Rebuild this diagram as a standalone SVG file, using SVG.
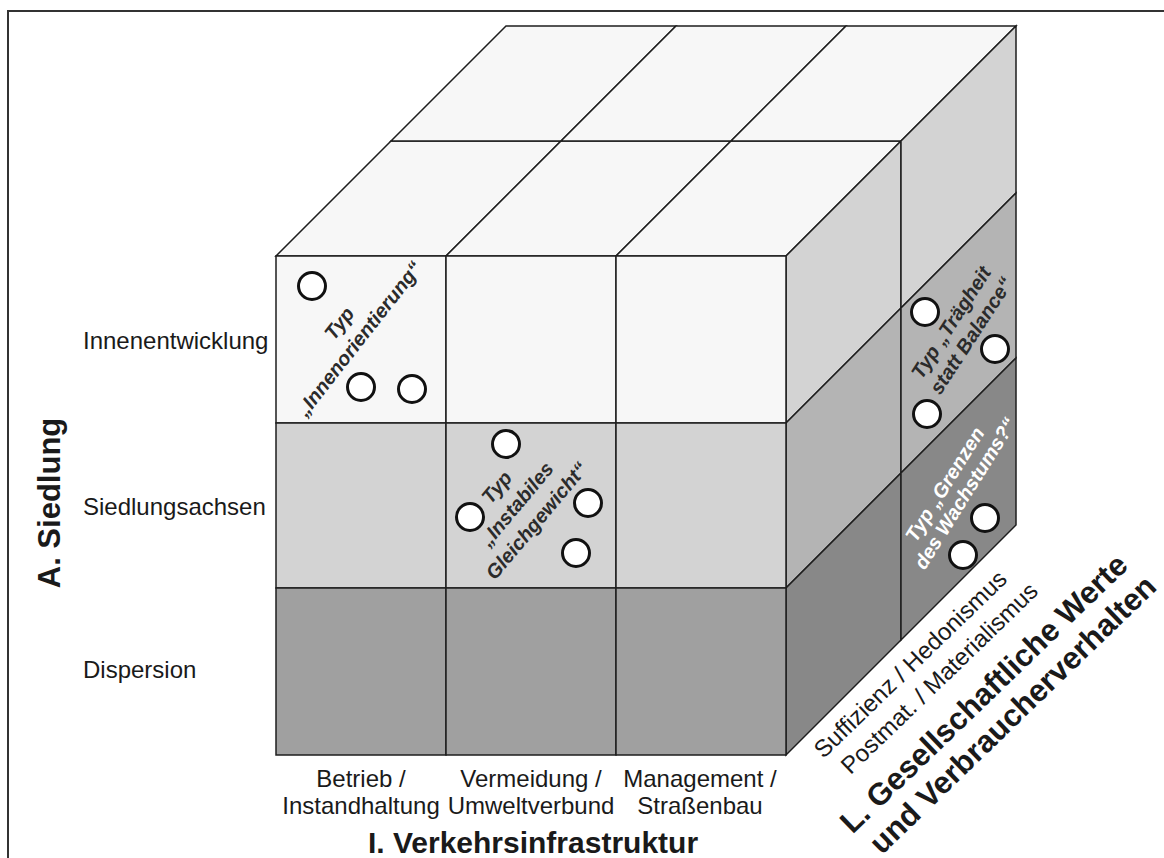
<svg xmlns="http://www.w3.org/2000/svg" width="1164" height="858" viewBox="0 0 1164 858">
<style>
.e{stroke:#1e1e1e;stroke-width:1.5;stroke-linejoin:miter}
.c0{fill:#f7f7f7}.c1{fill:#d3d3d3}.c2{fill:#a0a0a0}.r1{fill:#b4b4b4}.r2{fill:#888888}
.dot{fill:#ffffff;stroke:#111111;stroke-width:3}
.lab{font-family:"Liberation Sans",Arial,sans-serif;font-size:24px;fill:#1a1a1a}
.ttl{font-family:"Liberation Sans",Arial,sans-serif;font-size:31px;font-weight:bold;fill:#1a1a1a}
.typ{font-family:"Liberation Sans",Arial,sans-serif;font-size:20px;font-weight:bold;font-style:italic;fill:#2b2b2b;text-anchor:middle}
.wt{fill:#ffffff}
.m{text-anchor:middle}
</style>
<rect width="1164" height="858" fill="#ffffff"/>
<path id="frame" d="M8,858V11H1164" fill="none" stroke="#333333" stroke-width="2"/>

<g id="cube-top">
<polygon class="e c0" points="276,256 446,256 561,141 391,141"/>
<polygon class="e c0" points="446,256 616,256 731,141 561,141"/>
<polygon class="e c0" points="616,256 786,256 901,141 731,141"/>
<polygon class="e c0" points="391,141 561,141 676,26 506,26"/>
<polygon class="e c0" points="561,141 731,141 846,26 676,26"/>
<polygon class="e c0" points="731,141 901,141 1016,26 846,26"/>
</g>

<g id="cube-right">
<polygon class="e c1" points="786,256 901,141 901,308 786,423"/>
<polygon class="e r1" points="786,423 901,308 901,473 786,588"/>
<polygon class="e r2" points="786,588 901,473 901,640 786,755"/>
<polygon class="e c1" points="901,141 1016,26 1016,193 901,308"/>
<polygon class="e r1" points="901,308 1016,193 1016,358 901,473"/>
<polygon class="e r2" points="901,473 1016,358 1016,525 901,640"/>
</g>

<g id="cube-front">
<rect class="e c0" x="276" y="256" width="170" height="167"/>
<rect class="e c0" x="446" y="256" width="170" height="167"/>
<rect class="e c0" x="616" y="256" width="170" height="167"/>
<rect class="e c1" x="276" y="423" width="170" height="165"/>
<rect class="e c1" x="446" y="423" width="170" height="165"/>
<rect class="e c1" x="616" y="423" width="170" height="165"/>
<rect class="e c2" x="276" y="588" width="170" height="167"/>
<rect class="e c2" x="446" y="588" width="170" height="167"/>
<rect class="e c2" x="616" y="588" width="170" height="167"/>
</g>

<g id="typ-innenorientierung">
<circle class="dot" cx="312" cy="286" r="13.5"/>
<circle class="dot" cx="361" cy="387" r="13.5"/>
<circle class="dot" cx="412" cy="389" r="13.5"/>
<text class="typ" transform="translate(349,331) rotate(-52)"><tspan x="0" y="-5.5">Typ</tspan><tspan x="0" y="19.5">„Innenorientierung“</tspan></text>
</g>

<g id="typ-instabiles-gleichgewicht">
<circle class="dot" cx="506" cy="444" r="13.5"/>
<circle class="dot" cx="470" cy="517" r="13.5"/>
<circle class="dot" cx="588" cy="503" r="13.5"/>
<circle class="dot" cx="576" cy="553" r="13.5"/>
<text class="typ" transform="translate(516.5,504) rotate(-50)"><tspan x="0" y="-19">Typ</tspan><tspan x="0" y="7">„Instabiles</tspan><tspan x="0" y="33">Gleichgewicht“</tspan></text>
</g>

<g id="typ-traegheit">
<circle class="dot" cx="925" cy="312" r="13.5"/>
<circle class="dot" cx="995" cy="349" r="13.5"/>
<circle class="dot" cx="927" cy="414" r="13.5"/>
<text class="typ" transform="translate(961,329) rotate(-57)"><tspan x="0" y="-5">Typ „Trägheit</tspan><tspan x="0" y="19">statt Balance“</tspan></text>
</g>

<g id="typ-grenzen">
<circle class="dot" cx="985" cy="518" r="13.5"/>
<circle class="dot" cx="963" cy="555" r="13.5"/>
<text class="typ wt" transform="translate(954,490) rotate(-58)"><tspan x="0" y="-4">Typ „Grenzen</tspan><tspan x="3" y="18">des Wachstums?“</tspan></text>
</g>

<g id="axis-siedlung">
<text class="ttl m" transform="translate(60,503) rotate(-90)">A. Siedlung</text>
<text class="lab" x="83" y="349">Innenentwicklung</text>
<text class="lab" x="83" y="515">Siedlungsachsen</text>
<text class="lab" x="83" y="678">Dispersion</text>
</g>

<g id="axis-verkehr">
<text class="lab m" x="361" y="787">Betrieb /</text>
<text class="lab m" x="361" y="814">Instandhaltung</text>
<text class="lab m" x="531" y="787">Vermeidung /</text>
<text class="lab m" x="531" y="814">Umweltverbund</text>
<text class="lab m" x="700" y="787">Management /</text>
<text class="lab m" x="700" y="814">Straßenbau</text>
<text class="ttl m" x="533" y="853" style="font-size:30px">I. Verkehrsinfrastruktur</text>
</g>

<g id="axis-werte">
<text class="lab m" transform="translate(916,670) rotate(-44)">Suffizienz / Hedonismus</text>
<text class="lab m" transform="translate(945,684) rotate(-44)">Postmat. / Materialismus</text>
<text class="ttl m" transform="translate(991,701) rotate(-44)">L. Gesellschaftliche Werte</text>
<text class="ttl m" transform="translate(1020,722) rotate(-44)">und Verbraucherverhalten</text>
</g>
</svg>
